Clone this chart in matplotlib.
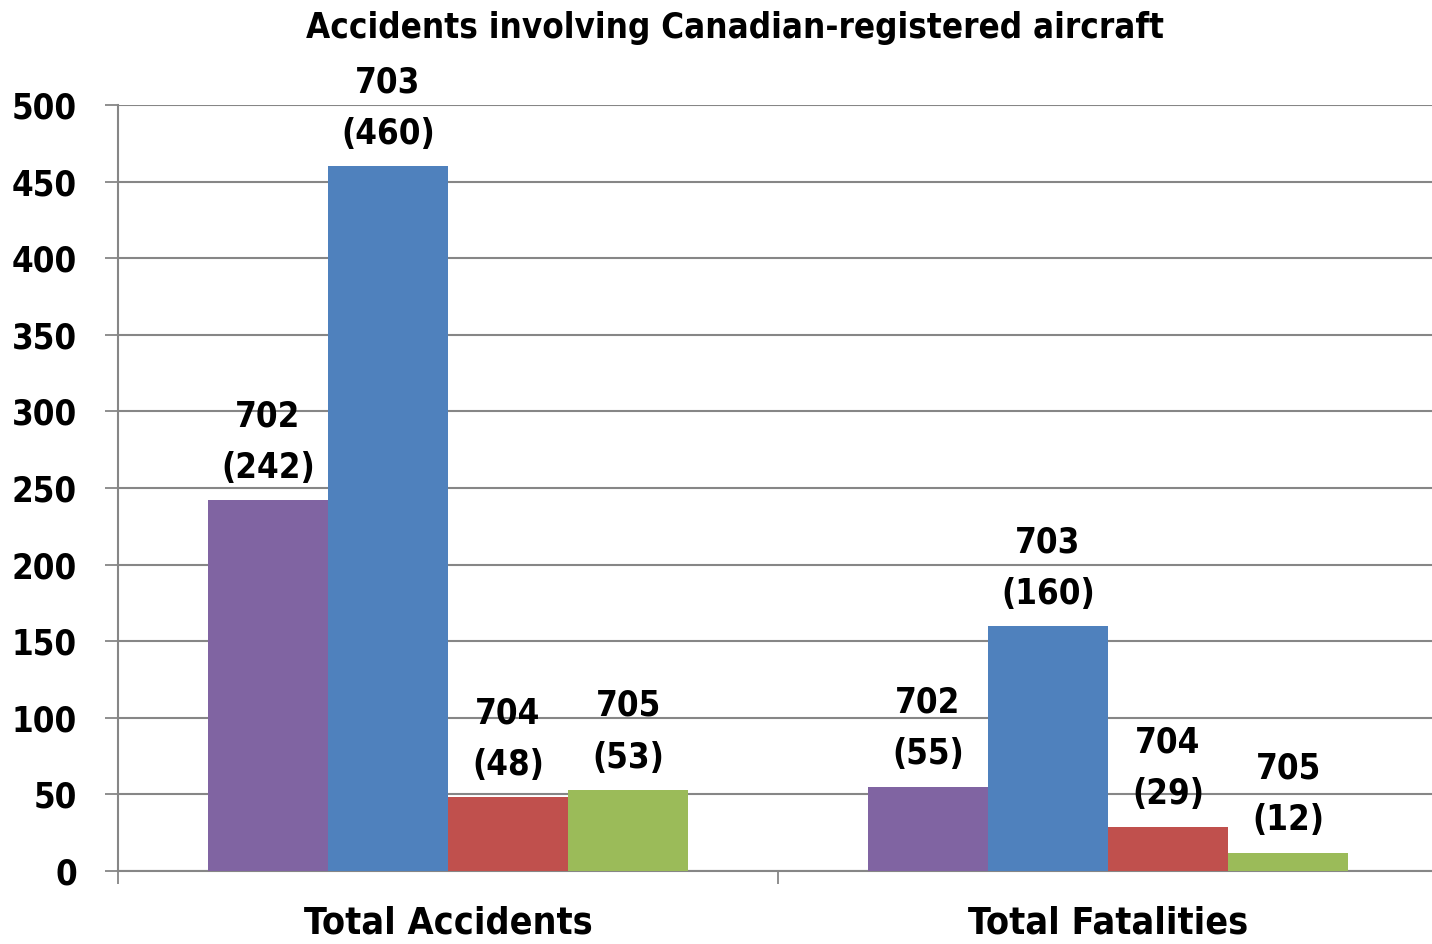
import matplotlib
matplotlib.use("Agg")
import matplotlib.pyplot as plt
import numpy as np

plt.rcParams['font.family'] = ['DejaVu Sans']
plt.rcParams['font.stretch'] = 'condensed'
plt.rcParams['font.weight'] = 'bold'

title = "Accidents involving Canadian-registered aircraft"
categories = ["Total Accidents", "Total Fatalities"]
series_names = ["702", "703", "704", "705"]
values = {
    "702": [242, 55],
    "703": [460, 160],
    "704": [48, 29],
    "705": [53, 12],
}
colors = ["#8064A2", "#4F81BD", "#C0504D", "#9BBB59"]
yticks = [0, 50, 100, 150, 200, 250, 300, 350, 400, 450, 500]

W, H = 1432, 944
fig = plt.figure(figsize=(W / 100, H / 100), dpi=100)
ax = fig.add_axes([118 / W, (H - 871) / H, (1438 - 118) / W, (871 - 105) / H])

FS = 25
x = np.arange(len(categories))
bw = 120 / 660
n = len(series_names)
for i, (name, c) in enumerate(zip(series_names, colors)):
    offs = (i - (n - 1) / 2) * bw
    vals = values[name]
    ax.bar(x + offs, vals, width=bw, color=c, zorder=3, linewidth=0)
    for xi, v in zip(x, vals):
        ax.annotate(f"{name}\n({v})", (xi + offs, v), xytext=(0, 11),
                    textcoords="offset points", ha="center", va="bottom",
                    fontsize=FS, linespacing=1.65, stretch='condensed',
                    fontweight='bold', color="black", zorder=5)

ax.set_xlim(-0.5, len(categories) - 0.5)
ax.set_ylim(0, 500)
ax.set_yticks(yticks)
ax.set_yticklabels([str(t) for t in yticks], fontsize=FS, stretch='condensed',
                   fontweight='bold')
ax.set_xticks([-0.5, 0.5, 1.5])
ax.set_xticklabels([])
ax.tick_params(axis='y', length=9.5, width=1.3, color="#868686", pad=20)
ax.tick_params(axis='x', length=9, width=1.3, color="#868686")
for xi, cat in zip(x, categories):
    ax.text(xi, -0.045, cat, transform=ax.get_xaxis_transform(), ha="center",
            va="top", fontsize=FS + 2, stretch='condensed', fontweight='bold')

ax.grid(axis='y', color="#868686", linewidth=1.5, zorder=0)
ax.set_axisbelow(True)
for s in ["top", "right"]:
    ax.spines[s].set_visible(False)
for s in ["left", "bottom"]:
    ax.spines[s].set_color("#868686")
    ax.spines[s].set_linewidth(1.5)

fig.text(735 / W, 1 - 28 / H, title, ha="center", va="center", fontsize=FS,
         stretch='condensed', fontweight='bold')

fig.savefig("out.png", dpi=100)
